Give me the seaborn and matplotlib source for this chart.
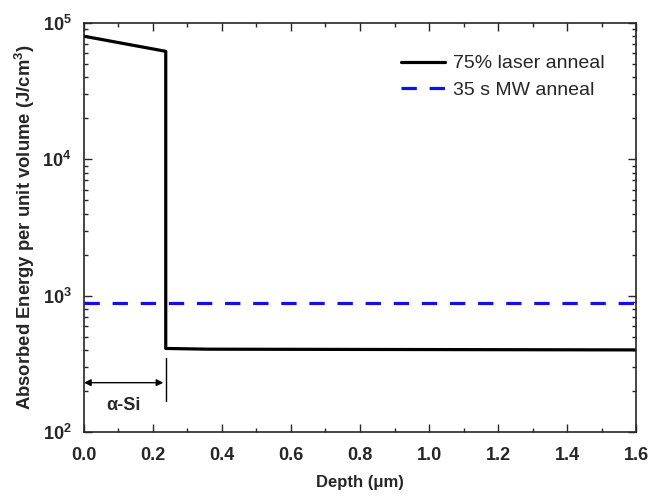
import numpy as np
import pandas as pd
import matplotlib
matplotlib.use('Agg')
import seaborn as sns
import matplotlib.pyplot as plt
from matplotlib.ticker import MultipleLocator, LogLocator, NullFormatter

# laser anneal profile (depth in um, energy in J/cm^3)
laser_depth = [0.0, 0.237, 0.237, 0.36, 1.6]
laser_energy = [80000, 62000, 410, 405, 400]

# microwave anneal: uniform
mw_depth = [0.0, 1.6]
mw_energy = [880, 880]

x_ticks = [0.0, 0.2, 0.4, 0.6, 0.8, 1.0, 1.2, 1.4, 1.6]
y_ticks = [1e2, 1e3, 1e4, 1e5]

sns.set_style('ticks')
plt.rcParams['font.family'] = ['Liberation Sans', 'DejaVu Sans']
plt.rcParams['mathtext.fontset'] = 'custom'
plt.rcParams['mathtext.rm'] = 'Liberation Sans'
plt.rcParams['mathtext.bf'] = 'Liberation Sans:bold'

fig = plt.figure(figsize=(6.49, 4.97), dpi=100)
ax = fig.add_axes([0.1294, 0.1308, 0.8506, 0.8229])

df_laser = pd.DataFrame({'depth': laser_depth, 'energy': laser_energy})
df_mw = pd.DataFrame({'depth': mw_depth, 'energy': mw_energy})

sns.lineplot(data=df_laser, x='depth', y='energy', ax=ax, color='black', lw=2.3,
             sort=False, estimator=None, label='75% laser anneal')
sns.lineplot(data=df_mw, x='depth', y='energy', ax=ax, color='#1010ee', lw=2.3,
             estimator=None, label='35 s MW anneal')
ax.lines[1].set_dashes((4.8, 4.0))

ax.set_yscale('log')
ax.set_ylim(1e2, 1e5)

ax.yaxis.set_minor_locator(LogLocator(base=10, subs=np.arange(2, 10)))
ax.yaxis.set_minor_formatter(NullFormatter())
ax.set_xticks(x_ticks)
ax.set_xticklabels([f'{v:.1f}' for v in x_ticks], fontweight='bold')
ax.xaxis.set_minor_locator(MultipleLocator(0.1))
ax.set_yticks(y_ticks)
ax.set_yticklabels([r'$\mathbf{10^{%d}}$' % int(np.log10(v)) for v in y_ticks])
ax.set_xlim(0, 1.6)

ax.tick_params(which='both', direction='in', top=True, right=True, width=1)
ax.tick_params(which='major', length=6, labelsize=13)
ax.tick_params(axis='x', which='major', pad=11)
ax.tick_params(axis='y', which='major', pad=9)
ax.tick_params(which='minor', length=3)
for s in ax.spines.values():
    s.set_linewidth(1.2)

ax.set_xlabel('Depth (\u03bcm)', fontsize=12, fontweight='bold', labelpad=8)
ax.set_ylabel(r'Absorbed Energy per unit volume (J/cm$^\mathbf{3}$)', fontsize=13.3,
              fontweight='bold', labelpad=4)

# alpha-Si layer annotation
ax.annotate('', xy=(0.0, 230), xytext=(0.23, 230),
            arrowprops=dict(arrowstyle='<|-|>', color='black', lw=1, mutation_scale=10,
                            shrinkA=0, shrinkB=0))
ax.plot([0.237, 0.237], [168, 350], color='black', lw=1)
ax.text(0.115, 157, '\u03b1-Si', ha='center', va='center', fontsize=13, fontweight='bold')

leg = ax.legend(loc='upper right', bbox_to_anchor=(0.975, 0.965), frameon=False, fontsize=14,
                handlelength=2.3, labelspacing=0.45, handletextpad=0.4)

fig.savefig('out.png', dpi=100)
plt.close()
